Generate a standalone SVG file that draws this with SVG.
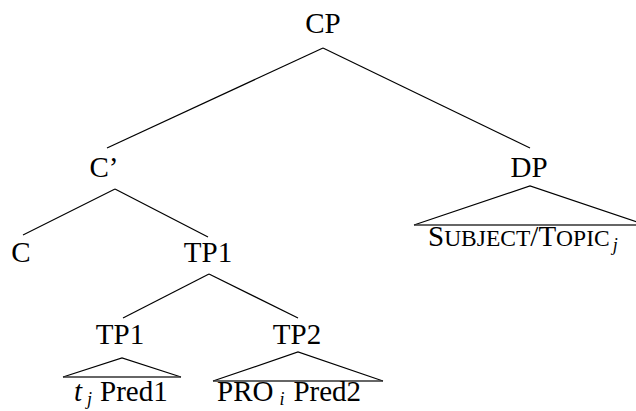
<svg xmlns="http://www.w3.org/2000/svg" width="636" height="411" viewBox="0 0 636 411">
<style>
text{font-family:"Liberation Serif","Times New Roman",serif;font-size:29px;fill:#000}
.lab{text-anchor:middle}
.sub{font-size:18px;font-style:italic}
.sc{font-size:23.5px}
line,polyline{stroke:#000;stroke-width:1.2;fill:none}
.base{stroke:#333;stroke-width:1.6}
</style>
<rect width="636" height="411" fill="#fff"/>
<g id="connectors">
<line x1="323" y1="48" x2="107" y2="148"/>
<line x1="323" y1="48" x2="530" y2="148"/>
<line x1="115" y1="189" x2="23" y2="235"/>
<line x1="115" y1="189" x2="208" y2="237"/>
<line x1="209" y1="274" x2="123" y2="318"/>
<line x1="209" y1="274" x2="298" y2="318"/>
</g>
<g id="CP"><text class="lab" x="323" y="33">CP</text></g>
<g id="Cbar"><text class="lab" x="104" y="177">C’</text></g>
<g id="C"><text class="lab" x="21" y="262">C</text></g>
<g id="TP1top"><text class="lab" x="208" y="262">TP1</text></g>
<g id="TP1low"><text class="lab" x="120" y="344">TP1</text>
<polyline points="63,377 122,358 181,377"/><line class="base" x1="63" y1="377" x2="181" y2="377"/>
<text x="74" y="401"><tspan font-style="italic">t</tspan><tspan class="sub" dx="5" dy="4">j</tspan><tspan dx="8" dy="-4">Pred1</tspan></text>
</g>
<g id="TP2"><text class="lab" x="297" y="344">TP2</text>
<polyline points="213,381 298,352 383,381"/><line class="base" x1="213" y1="381" x2="383" y2="381"/>
<text x="217" y="401">PRO<tspan class="sub" dx="6" dy="4">i</tspan><tspan dx="9" dy="-4">Pred2</tspan></text>
</g>
<g id="DP"><text class="lab" x="529" y="177">DP</text>
<polyline points="414,225 530,186 646,225"/><line class="base" x1="414" y1="225" x2="636" y2="225"/>
<text x="428" y="246">S<tspan class="sc">UBJECT</tspan>/T<tspan class="sc">OPIC</tspan><tspan class="sub" dx="3" dy="5">j</tspan></text>
</g>
</svg>
